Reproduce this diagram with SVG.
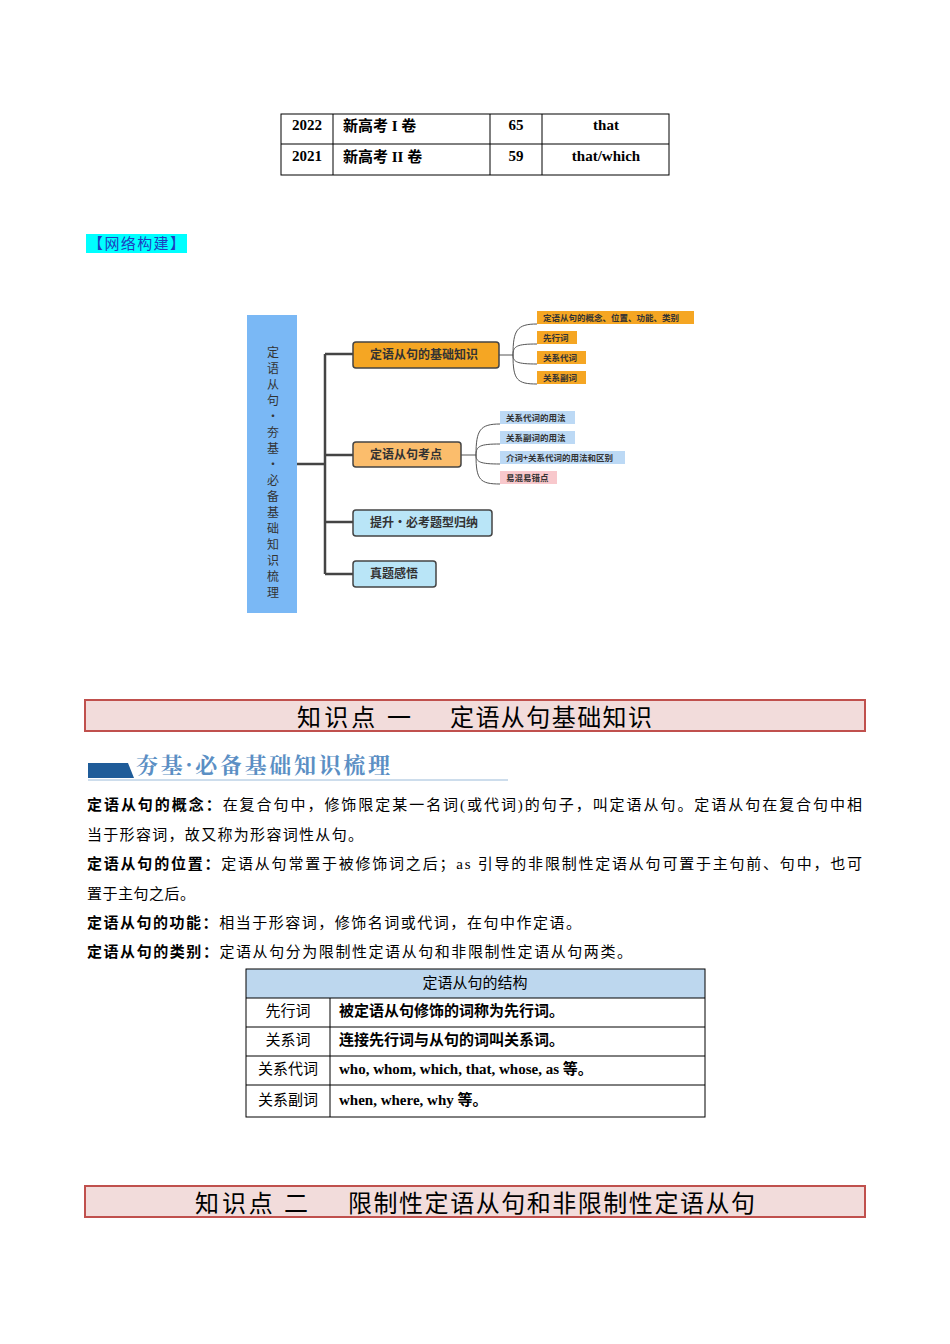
<svg xmlns="http://www.w3.org/2000/svg" width="950" height="1344" viewBox="0 0 950 1344">
<style>
.s{font-family:"Liberation Serif","Noto Sans CJK SC",serif;font-size:15px;fill:#000}
.b{font-weight:bold}
.m{font-family:"Noto Sans CJK SC",sans-serif;font-weight:bold;fill:#333}
.ln{stroke:#000;stroke-width:1;fill:none}
.tr{stroke:#444;stroke-width:2.5;fill:none}
.lf{stroke:#555;stroke-width:1;fill:none}
.hd{fill:#f2dcdb;stroke:#c0504d;stroke-width:2}
.ht{font-family:"Noto Sans CJK SC",sans-serif;font-size:24px;fill:#000}
</style>
<rect width="950" height="1344" fill="#fff"/>
<g id="exam-table">
<rect x="281" y="114" width="388" height="61" class="ln"/>
<path d="M281 144H669M333 114V175M490 114V175M542 114V175" class="ln"/>
<text x="307" y="130" class="s b" text-anchor="middle">2022</text>
<text x="343" y="131" class="s b">新高考 I 卷</text>
<text x="516" y="130" class="s b" text-anchor="middle">65</text>
<text x="606" y="130" class="s b" text-anchor="middle">that</text>
<text x="307" y="161" class="s b" text-anchor="middle">2021</text>
<text x="343" y="162" class="s b">新高考 II 卷</text>
<text x="516" y="161" class="s b" text-anchor="middle">59</text>
<text x="606" y="161" class="s b" text-anchor="middle">that/which</text>
</g>
<g id="network-label">
<rect x="86" y="234" width="101" height="19" fill="#00ffff"/>
<text x="88" y="249" font-family="Noto Sans CJK SC,sans-serif" font-size="15" fill="#1f3fbf" textLength="97">【网络构建】</text>
</g>
<g id="connectors">
<path d="M297 464H325M325 354V574M325 354H353M325 455H353M325 522H353M325 574H353" class="tr"/>
<path d="M499 355H513M513 355C513 330 517 324 537 324M513 355C513 346 517 344 537 344M513 355C513 362 517 364 537 364M513 355C513 380 517 384 537 384" class="lf"/>
<path d="M461 455H476M476 455C476 430 480 424 500 424M476 455C476 446 480 444 500 444M476 455C476 462 480 464 500 464M476 455C476 480 480 484 500 484" class="lf"/>
</g>
<g id="root">
<rect x="247" y="315" width="50" height="298" fill="#7ab8f5"/>
<text font-family="Noto Sans CJK SC,sans-serif" font-size="12" fill="#333" text-anchor="middle">
<tspan x="273" y="357">定</tspan><tspan x="273" y="373">语</tspan><tspan x="273" y="389">从</tspan><tspan x="273" y="405">句</tspan><tspan x="273" y="421">·</tspan><tspan x="273" y="437">夯</tspan><tspan x="273" y="453">基</tspan><tspan x="273" y="469">·</tspan><tspan x="273" y="485">必</tspan><tspan x="273" y="501">备</tspan><tspan x="273" y="517">基</tspan><tspan x="273" y="533">础</tspan><tspan x="273" y="549">知</tspan><tspan x="273" y="565">识</tspan><tspan x="273" y="581">梳</tspan><tspan x="273" y="597">理</tspan>
</text>
</g>
<g id="n1"><rect x="353" y="342" width="146" height="26" rx="3" fill="#f5a623" stroke="#444" stroke-width="1.5"/><text x="370" y="359" class="m" font-size="12">定语从句的基础知识</text></g>
<g id="n2"><rect x="353" y="442" width="108" height="25" rx="3" fill="#fbbd6c" stroke="#444" stroke-width="1.5"/><text x="370" y="459" class="m" font-size="12">定语从句考点</text></g>
<g id="n3"><rect x="353" y="510" width="139" height="26" rx="3" fill="#b9e5f7" stroke="#444" stroke-width="1.5"/><text x="370" y="527" class="m" font-size="12">提升·必考题型归纳</text></g>
<g id="n4"><rect x="353" y="561" width="83" height="26" rx="3" fill="#b9e5f7" stroke="#444" stroke-width="1.5"/><text x="370" y="578" class="m" font-size="12">真题感悟</text></g>
<g id="l1"><rect x="537" y="311" width="157" height="13" fill="#f5a623"/><text x="543" y="321" class="m" font-size="8.5">定语从句的概念、位置、功能、类别</text></g>
<g id="l2"><rect x="537" y="331" width="40" height="13" fill="#f5a623"/><text x="543" y="341" class="m" font-size="8.5">先行词</text></g>
<g id="l3"><rect x="537" y="351" width="49" height="13" fill="#f5a623"/><text x="543" y="361" class="m" font-size="8.5">关系代词</text></g>
<g id="l4"><rect x="537" y="371" width="49" height="13" fill="#f5a623"/><text x="543" y="381" class="m" font-size="8.5">关系副词</text></g>
<g id="l5"><rect x="500" y="411" width="75" height="13" fill="#bcd9f5"/><text x="506" y="421" class="m" font-size="8.5">关系代词的用法</text></g>
<g id="l6"><rect x="500" y="431" width="75" height="13" fill="#bcd9f5"/><text x="506" y="441" class="m" font-size="8.5">关系副词的用法</text></g>
<g id="l7"><rect x="500" y="451" width="125" height="13" fill="#bcd9f5"/><text x="506" y="461" class="m" font-size="8.5">介词+关系代词的用法和区别</text></g>
<g id="l8"><rect x="500" y="471" width="57" height="13" fill="#f8c8cc"/><text x="506" y="481" class="m" font-size="8.5">易混易错点</text></g>
<g id="header1"><rect x="85" y="700" width="780" height="31" class="hd"/><text x="297" y="726" class="ht" textLength="114">知识点 一</text><text x="450" y="726" class="ht" textLength="202">定语从句基础知识</text></g>
<g id="subhead">
<path d="M88 763H128L134 778H88Z" fill="#1f5c99"/>
<text x="136" y="773" font-family="Noto Serif CJK SC,Noto Sans CJK SC,serif" font-size="22" font-weight="bold" fill="#5b8fc4" textLength="254">夯基·必备基础知识梳理</text>
<line x1="88" y1="780" x2="508" y2="780" stroke="#9bbbd9" stroke-width="1"/>
</g>
<g id="body">
<text x="87" y="810" class="s" textLength="775" lengthAdjust="spacing"><tspan class="b">定语从句的概念：</tspan>在复合句中，修饰限定某一名词(或代词)的句子，叫定语从句。定语从句在复合句中相</text>
<text x="87" y="840" class="s" textLength="276" lengthAdjust="spacing">当于形容词，故又称为形容词性从句。</text>
<text x="87" y="869" class="s" textLength="775" lengthAdjust="spacing"><tspan class="b">定语从句的位置：</tspan>定语从句常置于被修饰词之后；as 引导的非限制性定语从句可置于主句前、句中，也可</text>
<text x="87" y="899" class="s" textLength="108" lengthAdjust="spacing">置于主句之后。</text>
<text x="87" y="928" class="s" textLength="494" lengthAdjust="spacing"><tspan class="b">定语从句的功能：</tspan>相当于形容词，修饰名词或代词，在句中作定语。</text>
<text x="87" y="957" class="s" textLength="545" lengthAdjust="spacing"><tspan class="b">定语从句的类别：</tspan>定语从句分为限制性定语从句和非限制性定语从句两类。</text>
</g>
<g id="struct-table">
<rect x="246" y="969" width="459" height="29" fill="#bdd7ee"/>
<rect x="246" y="969" width="459" height="148" class="ln"/>
<path d="M246 998H705M246 1027H705M246 1056H705M246 1085H705M330 998V1117" class="ln"/>
<text x="475" y="988" class="s" text-anchor="middle">定语从句的结构</text>
<text x="288" y="1016" class="s" text-anchor="middle">先行词</text>
<text x="339" y="1016" class="s b">被定语从句修饰的词称为先行词。</text>
<text x="288" y="1045" class="s" text-anchor="middle">关系词</text>
<text x="339" y="1045" class="s b">连接先行词与从句的词叫关系词。</text>
<text x="288" y="1074" class="s" text-anchor="middle">关系代词</text>
<text x="339" y="1074" class="s b">who, whom, which, that, whose, as 等。</text>
<text x="288" y="1105" class="s" text-anchor="middle">关系副词</text>
<text x="339" y="1105" class="s b">when, where, why 等。</text>
</g>
<g id="header2"><rect x="85" y="1186" width="780" height="31" class="hd"/><text x="195" y="1212" class="ht" textLength="113">知识点 二</text><text x="348" y="1212" class="ht" textLength="407">限制性定语从句和非限制性定语从句</text></g>
</svg>
